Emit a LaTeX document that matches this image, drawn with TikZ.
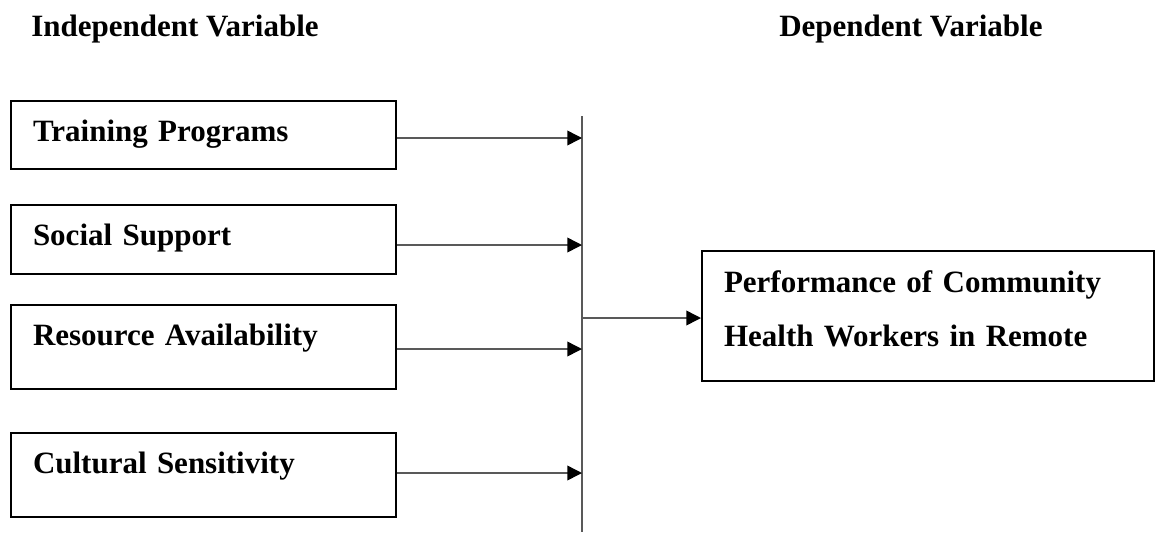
\documentclass[tikz,border=0pt]{standalone}
\usepackage{fontspec}
\setmainfont{Liberation Serif}
\usetikzlibrary{calc}
\usetikzlibrary{positioning}
\usetikzlibrary{arrows.meta}

\tikzset{
  varbox/.style={draw, line width=1.5pt, anchor=north west, align=left,
    text width=255.75pt, inner xsep=16.5pt, inner ysep=13.5pt, text height=16.5pt},
  arr/.style={draw=black!65, line width=1.1pt, -{Triangle[length=11pt,width=11pt,black]}},
  heading/.style={anchor=base west, inner sep=0pt}
}

\begin{document}
\begin{tikzpicture}[x=0.75pt, y=-0.75pt, font=\fontsize{23.25}{40.5}\selectfont\bfseries]
  \useasboundingbox (0,0) rectangle (1155,533);

  % headings
  \node[heading] (indep) at (31,36) {Independent Variable};
  \node[heading] (dep) at (779,36) {Dependent Variable};

  % independent variables, boxes hang from their top left corner
  \foreach \name/\ycord/\dcord/\txt in {
    tp/100/7.5pt/Training Programs,
    ss/204/8.25pt/Social Support,
    ra/304/19.5pt/Resource Availability,
    cs/432/19.5pt/Cultural Sensitivity
  }{
    \node[varbox, text depth=\dcord] (\name) at (10,\ycord) {\txt};
  }

  % dependent variable
  \node[varbox, text width=306pt, text height=17.25pt, text depth=53.25pt] (perf) at (701,250)
    {Performance of Community\\Health Workers in Remote};

  % the bar and the arrows
  \coordinate (bartop) at (582,116);
  \coordinate (barbot) at (582,532);
  \draw[draw=black!65, line width=1.1pt] (bartop) -- (barbot);

  \foreach \name/\dy in {tp/3,ss/5.5,ra/2,cs/-2}{
    \draw[arr] ($(\name.east)+(0,\dy)$) -- ($(\name.east -| bartop)+(0,\dy)$);
  }

  \coordinate (mid) at (582,318);
  \draw[arr] (mid) -- (mid -| perf.west);
\end{tikzpicture}
\end{document}
